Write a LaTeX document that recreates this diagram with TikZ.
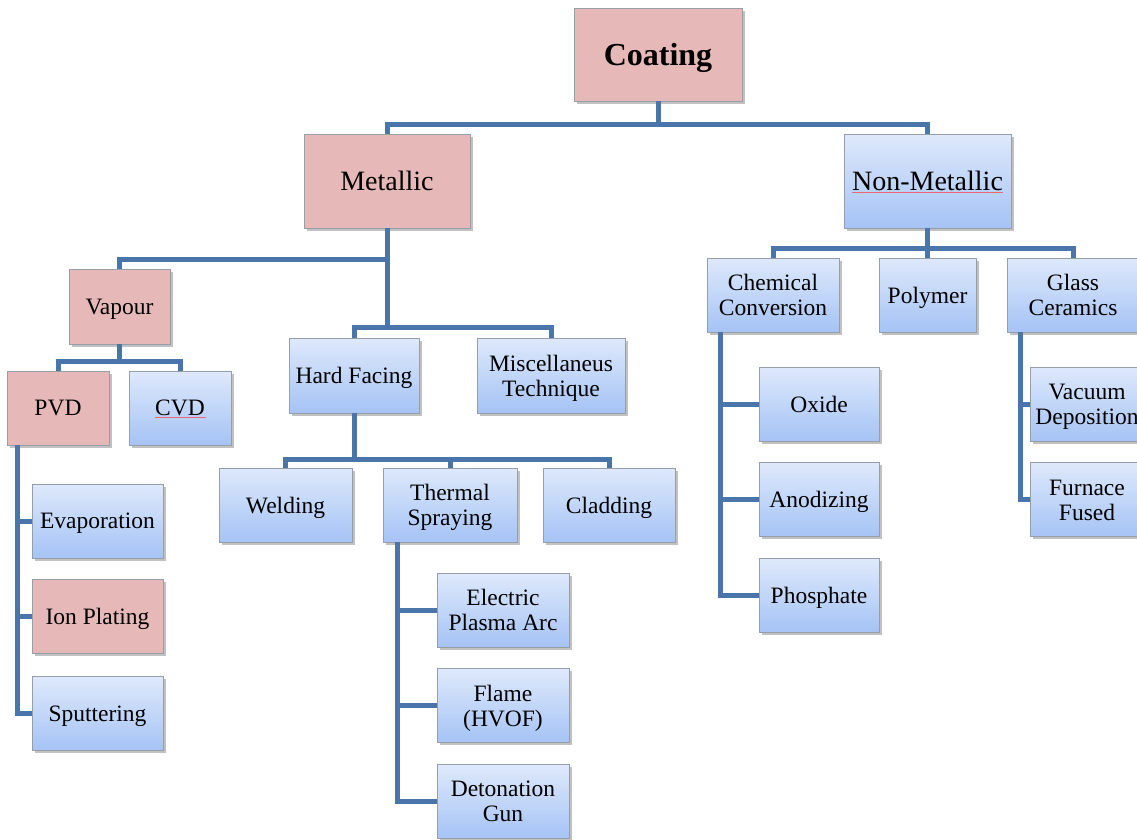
\documentclass[tikz,border=0pt]{standalone}
\usepackage{fontspec}
\setmainfont{Liberation Serif}
\usetikzlibrary{positioning, shadows}
\definecolor{linkblue}{RGB}{74,117,170}
\definecolor{boxtop}{RGB}{222,233,251}
\definecolor{boxbot}{RGB}{165,195,245}
\definecolor{pinkfill}{RGB}{230,185,184}
\definecolor{frame}{RGB}{150,158,170}
\definecolor{spellred}{RGB}{235,100,120}
\tikzset{%
	box/.style={draw=frame, line width=0.8pt, inner sep=2pt, align=center,
		minimum width=132pt, minimum height=74pt, text depth=0pt,
		font=\fontsize{23.5}{25}\selectfont,
		drop shadow={shadow xshift=2.5pt, shadow yshift=-2.5pt, opacity=0.35, fill=black!70}},
	blue/.style={box, top color=boxtop, bottom color=boxbot},
	pink/.style={box, fill=pinkfill},
	big/.style={minimum height=94pt, font=\fontsize{28}{30}\selectfont},
	connector/.style={line width=5pt, draw=linkblue},
	spell/.style={draw=spellred, line width=0.9pt}
}
\begin{document}
\begin{tikzpicture}[x=1pt, y=-1pt]
	\useasboundingbox (0,0) rectangle (1137,839);

	%top levels
	\node[pink, big, minimum width=168pt, minimum height=93pt,
		font=\fontsize{32}{34}\selectfont\bfseries] (coat) at (658,54.5) {Coating};
	\node[pink, big, minimum width=166pt] (metal) at (387,181) {Metallic};
	\node[blue, big, minimum width=167pt] (nonmetal) at (927.5,181) {Non-Metallic};

	\draw[connector] (coat.south) -- ++(0,23) -| (metal.north);
	\draw[connector] (coat.south) -- ++(0,23) -| (nonmetal.north);

	%metallic branch
	\node[pink, minimum width=101pt, minimum height=75pt] (vapour) at (119.5,306.5) {Vapour};
	\node[blue, minimum width=130pt, minimum height=75pt] (hard) at (354,375.5) {Hard Facing};
	\node[blue, minimum width=148pt, minimum height=75pt] (misc) at (551,375.5) {Miscellaneus\\Technique};

	\draw[connector] (metal.south) -- ++(0,31) -| (vapour.north);
	\draw[connector] (metal.south) -- ++(0,99) -| (hard.north);
	\draw[connector] (metal.south) -- ++(0,99) -| (misc.north);

	%vapour
	\node[pink, minimum width=102pt] (pvd) at (58,408) {PVD};
	\node[blue, minimum width=102pt] (cvd) at (180,408) {CVD};

	\draw[connector] (vapour.south) -- ++(0,17) -| (pvd.north);
	\draw[connector] (vapour.south) -- ++(0,17) -| (cvd.north);

	\node[blue, minimum width=131pt] (evap) at (97.5,521) {Evaporation};
	\node[pink, minimum width=131pt, below=21pt of evap] (ion) {Ion Plating};
	\node[blue, minimum width=131pt, below=22pt of ion] (sput) {Sputtering};

	\draw[connector] ([xshift=11pt]pvd.south west) |- (evap.west);
	\draw[connector] ([xshift=11pt]pvd.south west) |- (ion.west);
	\draw[connector] ([xshift=11pt]pvd.south west) |- (sput.west);

	%hard facing
	\node[blue, minimum width=133pt] (weld) at (285.5,505) {Welding};
	\node[blue, minimum width=134pt] (therm) at (450,505) {Thermal\\Spraying};
	\node[blue] (clad) at (609,505) {Cladding};

	\draw[connector] (hard.south) -- ++(0,46) -| (weld.north);
	\draw[connector] (hard.south) -- ++(0,46) -| (therm.north);
	\draw[connector] (hard.south) -- ++(0,46) -| (clad.north);

	\node[blue] (epa) at (503,610) {Electric\\Plasma Arc};
	\node[blue, below=21pt of epa] (flame) {Flame\\(HVOF)};
	\node[blue, below=21pt of flame] (deto) {Detonation\\Gun};

	\draw[connector] ([xshift=15pt]therm.south west) |- (epa.west);
	\draw[connector] ([xshift=15pt]therm.south west) |- (flame.west);
	\draw[connector] ([xshift=15pt]therm.south west) |- (deto.west);

	%non-metallic branch
	\node[blue] (chem) at (773,295) {Chemical\\Conversion};
	\node[blue, minimum width=97pt] (poly) at (927.5,295) {Polymer};
	\node[blue] (glass) at (1073,295) {Glass\\Ceramics};

	\draw[connector] (nonmetal.south) -- ++(0,20) -| (chem.north);
	\draw[connector] (nonmetal.south) -- ++(0,20) -| (poly.north);
	\draw[connector] (nonmetal.south) -- ++(0,20) -| (glass.north);

	\node[blue, minimum width=120pt] (oxide) at (819,404) {Oxide};
	\node[blue, minimum width=120pt, below=21pt of oxide] (anod) {Anodizing};
	\node[blue, minimum width=120pt, below=21pt of anod] (phos) {Phosphate};

	\draw[connector] ([xshift=14pt]chem.south west) |- (oxide.west);
	\draw[connector] ([xshift=14pt]chem.south west) |- (anod.west);
	\draw[connector] ([xshift=14pt]chem.south west) |- (phos.west);

	\node[blue, minimum width=114pt] (vac) at (1087,404) {Vacuum\\Deposition};
	\node[blue, minimum width=114pt, below=21pt of vac] (furn) {Furnace\\Fused};

	\draw[connector] ([xshift=14pt]glass.south west) |- (vac.west);
	\draw[connector] ([xshift=14pt]glass.south west) |- (furn.west);

	%spelling marks
	\draw[spell] ([shift={(-75.5,11)}]nonmetal.center) -- ++(151,0);
	\draw[spell] ([shift={(-25,9)}]cvd.center) -- ++(51,0);

\end{tikzpicture}
\end{document}
